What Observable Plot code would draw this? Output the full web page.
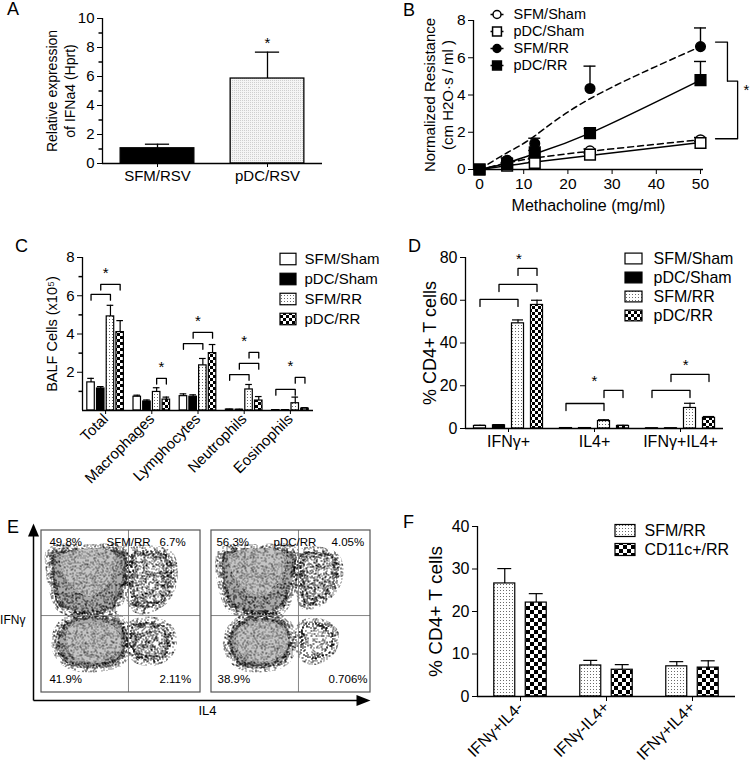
<!DOCTYPE html>
<html>
<head>
<meta charset="utf-8">
<script src="https://cdn.jsdelivr.net/npm/d3@7"></script>
<script src="https://cdn.jsdelivr.net/npm/@observablehq/plot@0.6"></script>
<style>
  html, body { margin: 0; padding: 0; background: #fff; }
  #fig { position: relative; width: 750px; height: 767px; overflow: hidden; background: #fff; }
  #fig > svg { position: absolute; }
</style>
</head>
<body>
<svg width="0" height="0" style="position:absolute;left:0;top:0" aria-hidden="true">
  <defs>
    <pattern id="pDots" patternUnits="userSpaceOnUse" width="3" height="3">
      <rect width="3" height="3" fill="#ffffff"/>
      <rect x="1" y="1" width="1" height="1" fill="#6a6a6a"/>
    </pattern>
    <pattern id="pFine" patternUnits="userSpaceOnUse" width="2" height="2">
      <rect width="2" height="2" fill="#f5f5f5"/>
      <rect width="1" height="1" fill="#cfcfcf"/>
    </pattern>
    <pattern id="pCheck" patternUnits="userSpaceOnUse" width="6" height="6">
      <rect width="6" height="6" fill="#ffffff"/>
      <rect width="3" height="3" fill="#000000"/>
      <rect x="3" y="3" width="3" height="3" fill="#000000"/>
    </pattern>
    <pattern id="pCheck4" patternUnits="userSpaceOnUse" width="8" height="8">
      <rect width="8" height="8" fill="#ffffff"/>
      <rect width="4" height="4" fill="#000000"/>
      <rect x="4" y="4" width="4" height="4" fill="#000000"/>
    </pattern>
    <filter id="fDense" x="0" y="0" width="100%" height="100%" color-interpolation-filters="sRGB">
      <feTurbulence type="fractalNoise" baseFrequency="0.9" numOctaves="2" seed="4"/>
      <feColorMatrix type="matrix" values="0 0 0 0 0  0 0 0 0 0  0 0 0 0 0  -40 0 0 0 20"/>
      <feComponentTransfer><feFuncA type="discrete" tableValues="0 1"/></feComponentTransfer>
    </filter>
    <filter id="fMid" x="0" y="0" width="100%" height="100%" color-interpolation-filters="sRGB">
      <feTurbulence type="fractalNoise" baseFrequency="0.9" numOctaves="2" seed="11"/>
      <feColorMatrix type="matrix" values="0 0 0 0 0  0 0 0 0 0  0 0 0 0 0  -40 0 0 0 18.4"/>
      <feComponentTransfer><feFuncA type="discrete" tableValues="0 1"/></feComponentTransfer>
    </filter>
    <filter id="fSparse" x="0" y="0" width="100%" height="100%" color-interpolation-filters="sRGB">
      <feTurbulence type="fractalNoise" baseFrequency="0.9" numOctaves="2" seed="23"/>
      <feColorMatrix type="matrix" values="0 0 0 0 0  0 0 0 0 0  0 0 0 0 0  -40 0 0 0 16.4"/>
      <feComponentTransfer><feFuncA type="discrete" tableValues="0 1"/></feComponentTransfer>
    </filter>
    <filter id="fLight" x="0" y="0" width="100%" height="100%" color-interpolation-filters="sRGB">
      <feTurbulence type="fractalNoise" baseFrequency="0.9" numOctaves="2" seed="37"/>
      <feColorMatrix type="matrix" values="0 0 0 0 0.3  0 0 0 0 0.3  0 0 0 0 0.3  -40 0 0 0 17"/>
      <feComponentTransfer><feFuncA type="discrete" tableValues="0 1"/></feComponentTransfer>
    </filter>
    <pattern id="sDense" patternUnits="userSpaceOnUse" width="380" height="240">
      <rect width="380" height="240" fill="#000" filter="url(#fDense)"/>
    </pattern>
    <pattern id="sMid" patternUnits="userSpaceOnUse" width="380" height="240">
      <rect width="380" height="240" fill="#000" filter="url(#fMid)"/>
    </pattern>
    <pattern id="sSparse" patternUnits="userSpaceOnUse" width="380" height="240">
      <rect width="380" height="240" fill="#000" filter="url(#fSparse)"/>
    </pattern>
    <pattern id="sBody" patternUnits="userSpaceOnUse" width="380" height="240">
      <rect width="380" height="240" fill="#a9a9a9"/>
      <rect width="380" height="240" fill="#000" filter="url(#fSparse)"/>
    </pattern>
    <pattern id="sCore" patternUnits="userSpaceOnUse" width="380" height="240">
      <rect width="380" height="240" fill="#c4c4c4"/>
      <rect width="380" height="240" fill="#000" filter="url(#fLight)"/>
    </pattern>
  </defs>
</svg>
<div id="fig"></div>
<script>
// ===================== DATA =====================
// Panel A
const aCategories = ["SFM/RSV", "pDC/RSV"];
const aValues = [1.05, 5.86];
const aErrors = [0.28, 1.82];
const aSignificant = [false, true];

// Panel B
const bDoses = [0, 6.25, 12.5, 25, 50];
const bSeries = ["SFM/Sham", "pDC/Sham", "SFM/RR", "pDC/RR"];
const bSFMSham = [0, 0.3, 0.55, 1.0, 1.6];
const bPDCSham = [0, 0.2, 0.35, 0.8, 1.42];
const bSFMRR = [0, 0.5, 1.4, 4.35, 6.6];
const bPDCRR = [0, 0.3, 0.92, 1.95, 4.8];
const bSFMShamErr = [0, 0.04, 0.06, 0.1, 0.12];
const bPDCShamErr = [0, 0.03, 0.05, 0.08, 0.1];
const bSFMRRErr = [0, 0.12, 0.28, 1.2, 1.0];
const bPDCRRErr = [0, 0.08, 0.1, 0.25, 1.0];
// fitted curves at the same doses
const bSFMShamFit = [0, 0.35, 0.62, 0.98, 1.6];
const bPDCShamFit = [0, 0.2, 0.4, 0.75, 1.45];
const bSFMRRFit = [0, 0.9, 1.8, 3.8, 6.6];
const bPDCRRFit = [0, 0.35, 0.85, 1.95, 4.8];

// Panel C
const cCategories = ["Total", "Macrophages", "Lymphocytes", "Neutrophils", "Eosinophils"];
const cSeries = ["SFM/Sham", "pDC/Sham", "SFM/RR", "pDC/RR"];
const cSFMSham = [1.47, 0.72, 0.75, 0.05, 0.02];
const cPDCSham = [1.15, 0.47, 0.72, 0.04, 0.02];
const cSFMRR = [4.92, 0.97, 2.36, 1.1, 0.38];
const cPDCRR = [4.1, 0.57, 3.0, 0.52, 0.1];
const cSFMShamErr = [0.21, 0.08, 0.12, 0.02, 0.01];
const cPDCShamErr = [0.1, 0.08, 0.1, 0.02, 0.01];
const cSFMRRErr = [0.58, 0.22, 0.36, 0.26, 0.32];
const cPDCRRErr = [0.6, 0.13, 0.45, 0.21, 0.05];
// [category, from series, to series, level]
const cBrackets = [[0,0,2,6.07],[0,1,3,6.6],[1,2,3,1.68],[2,0,2,3.5],[2,1,3,4.08],[3,0,2,1.88],[3,1,3,2.46],[3,2,3,3.04],[4,0,2,1.1],[4,2,3,1.73]];

// Panel D
const dCategories = ["IFNγ+", "IL4+", "IFNγ+IL4+"];
const dSeries = ["SFM/Sham", "pDC/Sham", "SFM/RR", "pDC/RR"];
const dSFMSham = [1.2, 0.2, 0.1];
const dPDCSham = [1.5, 0.2, 0.1];
const dSFMRR = [49.2, 3.5, 9.6];
const dPDCRR = [57.8, 1.2, 5.0];
const dSFMShamErr = [0.3, 0.05, 0.05];
const dPDCShamErr = [0.3, 0.05, 0.05];
const dSFMRRErr = [1.6, 0.6, 2.2];
const dPDCRRErr = [2.2, 0.3, 0.6];
const dBrackets = [[0,0,2,60.4],[0,1,3,67.4],[0,2,3,74.9],[1,2,3,17.8],[1,0,2,11.7],[2,0,2,17.8],[2,1,3,25.3]];

// Panel E (flow cytometry quadrants)
const eSamples = ["SFM/RR", "pDC/RR"];
const ePercentSFM = ["49.8%", "6.7%", "41.9%", "2.11%"]; // UL, UR, LL, LR
const ePercentPDC = ["56.3%", "4.05%", "38.9%", "0.706%"];
const eGate = [54.7, 47.5]; // quadrant gate (% of IL4, % of IFNγ axis)
// population outlines in % of axis range
const eSfmUL = [[7,86],[29.6,87.5],[52,86.5],[53.5,76],[50,62],[44,52],[27.7,49.4],[13.2,53.1],[8.5,65],[6.5,78]];
const eSfmUR = [[57,86],[68.6,87.5],[80,84],[82,70],[76,57],[62.3,51.5],[57,57]];
const eSfmLL = [[11.5,37.5],[19,44.5],[34.0,46.5],[49,43.5],[53,32],[49,20.5],[34.0,16.5],[18,18.5],[11,26]];
const eSfmLR = [[57,40.5],[68.6,43.5],[80,38.5],[81,27.5],[73.5,20.5],[60,21.5],[57,29]];
const eSfmCoreU = [[15,83],[44,84],[40,69],[29.6,62],[18,71]];
const eSfmCoreL = [[19,38],[43,39.5],[47.5,29],[37.1,22],[21,24.5]];
const ePdcUL = [[8,86],[29.6,87.5],[50.5,86.5],[52,76],[48.5,62],[43,52],[27.7,49.4],[13.2,53.1],[8.5,65],[6.5,78]];
const ePdcUR = [[57,85],[68.6,86.5],[78,82],[79,70],[70,58],[59.1,54.5],[57,60]];
const ePdcLL = [[12.5,36.5],[20,44],[32.1,46],[45.5,43],[49.5,32],[45.5,20.5],[32.1,16.5],[18,18.5],[12,26]];
const ePdcLR = [[57,40.5],[67.3,42.5],[76,37.5],[75,26.5],[65.4,20.5],[58,23]];
const ePdcCoreU = [[14,83],[44,84],[40,69],[29.6,62],[18,71]];
const ePdcCoreL = [[19,38],[42,39.5],[45.5,29],[35.8,22],[21,24.5]];

// Panel F
const fCategories = ["IFNγ+IL4-", "IFNγ-IL4+", "IFNγ+IL4+"];
const fSeries = ["SFM/RR", "CD11c+/RR"];
const fSFMRR = [26.6, 7.3, 7.1];
const fCD11cRR = [22.1, 6.3, 6.8];
const fSFMRRErr = [3.5, 1.2, 1.1];
const fCD11cRRErr = [2.1, 1.2, 1.6];

// ===================== HELPERS =====================
const FONT = '"Liberation Sans", Arial, Helvetica, sans-serif';
const fig = document.getElementById("fig");
function put(node, left, top) {
  node.style.position = "absolute";
  node.style.left = left + "px";
  node.style.top = top + "px";
  fig.appendChild(node);
}
function baseStyle(fs) {
  return {fontFamily: FONT, fontSize: fs + "px", color: "black", background: "transparent", overflow: "visible"};
}
function yTitle(text, dx, fontSize) {
  return Plot.text([text], {text: d => d, frameAnchor: "left", rotate: -90, dx, fontSize,
    textAnchor: "middle", lineAnchor: "middle"});
}
const tickSym = {draw(ctx) { ctx.moveTo(-4, 0); ctx.lineTo(0, 0); }};
const seriesFills4 = ["#ffffff", "#000000", "url(#pDots)", "url(#pCheck)"];

function barPanel(cfg) {
  const {categories, series, values, errors, fills, brackets = [], starShift = {}, pitch, barW, cap, leg,
    yDomain, yTicks, yMinor = [], fontSize, tickRotate, yLabel, yLabelSize, yLabelDx, starDy, starSize,
    W, H, mL, mR, mT, mB, xTickSize = 4, xTickPadding = 3} = cfg;
  const n = series.length;
  const center = (g, s) => g + (s - (n - 1) / 2) * pitch;
  const rows = [];
  series.forEach((name, s) => categories.forEach((c, g) =>
    rows.push({s, g, xc: center(g, s), v: values[s][g], e: errors[s][g]})));
  const bracketLines = brackets.map(([g, a, b, lvl]) => [
    {x: center(g, a), y: lvl - leg}, {x: center(g, a), y: lvl},
    {x: center(g, b), y: lvl}, {x: center(g, b), y: lvl - leg}]);
  const starRows = categories.map((c, g) => {
    const bs = brackets.filter(b => b[0] === g);
    if (!bs.length) return null;
    const xs = bs.flatMap(b => [center(g, b[1]), center(g, b[2])]);
    return {x: (d3.min(xs) + d3.max(xs)) / 2 + (starShift[g] || 0), y: d3.max(bs, b => b[3])};
  }).filter(Boolean);
  const x0 = -0.5, x1 = categories.length - 0.5;
  const errRows = rows.filter(r => r.e > 0);
  return Plot.plot({
    width: W, height: H, marginLeft: mL, marginRight: mR, marginTop: mT, marginBottom: mB,
    style: baseStyle(fontSize),
    x: {domain: [x0, x1], ticks: d3.range(categories.length), tickFormat: i => categories[i],
        tickSize: xTickSize, tickPadding: xTickPadding, tickRotate, label: null},
    y: {domain: yDomain, ticks: yTicks, tickSize: 5, tickPadding: 3, label: null},
    marks: [
      ...series.map((name, s) => Plot.rect(rows.filter(r => r.s === s), {
        x1: r => r.xc - barW / 2, x2: r => r.xc + barW / 2, y1: 0, y2: "v",
        fill: fills[s], stroke: "black", strokeWidth: 1.2})),
      Plot.ruleX(errRows, {x: "xc", y1: "v", y2: r => r.v + r.e, strokeWidth: 1.2}),
      Plot.ruleY(errRows, {y: r => r.v + r.e, x1: r => r.xc - cap, x2: r => r.xc + cap, strokeWidth: 1.2}),
      ...bracketLines.map(p => Plot.line(p, {x: "x", y: "y", strokeWidth: 1.3})),
      Plot.text(starRows, {x: "x", y: "y", text: () => "*", dy: starDy, fontSize: starSize}),
      Plot.dot(yMinor, {x: () => x0, y: d => d, symbol: tickSym, stroke: "black", fill: "none"}),
      Plot.ruleY([yDomain[0]], {strokeWidth: 1.3}),
      Plot.ruleX([x0], {strokeWidth: 1.3}),
      yTitle(yLabel, yLabelDx, yLabelSize)
    ]
  });
}

function barLegend({series, fills, swW, swH, rowH, gap, fontSize, width}) {
  return Plot.plot({
    width, height: rowH * series.length, marginLeft: 0, marginRight: 0, marginTop: 0, marginBottom: 0,
    style: baseStyle(fontSize),
    x: {type: "band", domain: ["sw"], range: [0, swW], padding: 0, axis: null},
    y: {type: "band", domain: series, range: [0, rowH * series.length], padding: 0, axis: null},
    marks: [
      ...series.map((s, i) => Plot.cell([s], {x: () => "sw", y: d => d, fill: fills[i], stroke: "black",
        strokeWidth: 1.2, insetTop: (rowH - swH) / 2, insetBottom: (rowH - swH) / 2})),
      Plot.text(series, {x: () => "sw", y: d => d, text: d => d, dx: swW / 2 + gap, textAnchor: "start"})
    ]
  });
}

// ===================== PANEL A =====================
const aRows = aCategories.map((c, i) => ({i, v: aValues[i], e: aErrors[i], sig: aSignificant[i]}));
const aFills = ["#000000", "url(#pFine)"];
const A = Plot.plot({
  width: 340, height: 185, marginLeft: 102, marginRight: 18, marginTop: 18, marginBottom: 22,
  style: baseStyle(15),
  x: {domain: [-0.5, 1.5], ticks: [0, 1], tickFormat: i => aCategories[i], tickSize: 4, tickPadding: 3, label: null},
  y: {domain: [0, 10], ticks: [0, 2, 4, 6, 8, 10], tickSize: 5, tickPadding: 3, label: null},
  marks: [
    ...aRows.map(r => Plot.rect([r], {x1: d => d.i - 0.335, x2: d => d.i + 0.335, y1: 0, y2: "v",
      fill: aFills[r.i], stroke: "black", strokeWidth: 1.3})),
    Plot.ruleX(aRows, {x: "i", y1: "v", y2: d => d.v + d.e, strokeWidth: 1.3}),
    Plot.ruleY(aRows, {y: d => d.v + d.e, x1: d => d.i - 0.11, x2: d => d.i + 0.11, strokeWidth: 1.3}),
    Plot.text(aRows.filter(d => d.sig), {x: "i", y: d => d.v + d.e, text: () => "*", dy: -9, fontSize: 15}),
    Plot.dot([1, 3, 5, 7, 9], {x: () => -0.5, y: d => d, symbol: tickSym, stroke: "black", fill: "none"}),
    Plot.ruleY([0], {strokeWidth: 1.3}),
    Plot.ruleX([-0.5], {strokeWidth: 1.3}),
    yTitle("Relative expression", -50, 14),
    yTitle("of IFNa4 (Hprt)", -32, 14)
  ]
});
put(A, 0, 0);

// ===================== PANEL B =====================
const bVals = [bSFMSham, bPDCSham, bSFMRR, bPDCRR];
const bErrs = [bSFMShamErr, bPDCShamErr, bSFMRRErr, bPDCRRErr];
const bFits = [bSFMShamFit, bPDCShamFit, bSFMRRFit, bPDCRRFit];
const bSymbols = ["circle", "square", "circle", "square"];
const bRadius = [4.8, 6, 4.8, 6];
const bFillsStyle = ["#ffffff", "#ffffff", "#000000", "#000000"];
const bDash = ["6,4", undefined, "6,4", undefined];
const bXMin = -1.36;
const bMarks = [];
bSeries.forEach((s, i) => {
  bMarks.push(Plot.line(bDoses.map((x, k) => ({x, y: bFits[i][k]})), {x: "x", y: "y", curve: "natural",
    stroke: "black", strokeWidth: 1.5, strokeDasharray: bDash[i]}));
});
bSeries.forEach((s, i) => {
  const rows = bDoses.map((x, k) => ({x, v: bVals[i][k], e: bErrs[i][k]})).filter(r => r.e > 0);
  bMarks.push(Plot.ruleX(rows, {x: "x", y1: "v", y2: r => r.v + r.e, strokeWidth: 1.4}));
  bMarks.push(Plot.ruleY(rows, {y: r => r.v + r.e, x1: r => r.x - 1.36, x2: r => r.x + 1.36, strokeWidth: 1.4}));
});
bSeries.forEach((s, i) => {
  bMarks.push(Plot.dot(bDoses.map((x, k) => ({x, v: bVals[i][k]})), {x: "x", y: "v", symbol: bSymbols[i],
    r: bRadius[i], fill: bFillsStyle[i], stroke: "black", strokeWidth: 1.5}));
});
const B = Plot.plot({
  width: 390, height: 215, marginLeft: 113, marginRight: 47, marginTop: 20, marginBottom: 46,
  style: baseStyle(15.5),
  x: {domain: [bXMin, 50.68], ticks: [0, 10, 20, 30, 40, 50], tickSize: 5, tickPadding: 3, label: null},
  y: {domain: [0, 8], ticks: [0, 2, 4, 6, 8], tickSize: 5, tickPadding: 3, label: null},
  marks: [
    ...bMarks,
    // significance brackets (right side)
    Plot.line([{x: 53.4, y: 6.84}, {x: 56.1, y: 6.84}, {x: 56.1, y: 4.75}], {x: "x", y: "y", strokeWidth: 1.3}),
    Plot.line([{x: 56.1, y: 4.75}, {x: 58.4, y: 4.75}, {x: 58.4, y: 1.65}, {x: 53.4, y: 1.65}], {x: "x", y: "y", strokeWidth: 1.3}),
    Plot.text([{x: 60.4, y: 4.5}], {x: "x", y: "y", text: () => "*", dy: 4, fontSize: 15}),
    Plot.ruleY([0], {strokeWidth: 1.3}),
    Plot.ruleX([bXMin], {strokeWidth: 1.3}),
    Plot.text(["Methacholine (mg/ml)"], {text: d => d, frameAnchor: "bottom", lineAnchor: "middle", dy: 36, fontSize: 16}),
    yTitle("Normalized Resistance", -43, 15),
    yTitle("(cm H2O·s / ml )", -25, 15)
  ]
});
put(B, 360, 0);

const BL = Plot.plot({
  width: 120, height: 80, marginLeft: 0, marginRight: 0, marginTop: 0, marginBottom: 0,
  style: baseStyle(14.5),
  x: {domain: [0, 1], range: [0, 13], axis: null},
  y: {type: "point", domain: bSeries, range: [13, 65.5], padding: 0, axis: null},
  marks: [
    ...bSeries.map((s, i) => Plot.link([s], {x1: 0, x2: 1, y1: d => d, y2: d => d, stroke: "black",
      strokeWidth: 1.5, strokeDasharray: i % 2 === 0 ? "3,2" : undefined})),
    ...bSeries.map((s, i) => Plot.dot([s], {x: 0.5, y: d => d, symbol: bSymbols[i], r: i % 2 ? 5 : 4,
      fill: bFillsStyle[i], stroke: "black", strokeWidth: 1.5})),
    Plot.text(bSeries, {x: 1, y: d => d, text: d => d, dx: 10, textAnchor: "start"})
  ]
});
put(BL, 490, 0);

// ===================== PANEL C =====================
const C = barPanel({
  categories: cCategories, series: cSeries,
  values: [cSFMSham, cPDCSham, cSFMRR, cPDCRR], errors: [cSFMShamErr, cPDCShamErr, cSFMRRErr, cPDCRRErr],
  fills: seriesFills4, brackets: cBrackets, pitch: 0.21, barW: 0.162, cap: 0.072, leg: 0.3,
  yDomain: [0, 8], yTicks: [2, 4, 6, 8], yMinor: [1, 3, 5, 7], fontSize: 15, tickRotate: -45,
  yLabel: "BALF Cells (x10⁵)", yLabelSize: 14.5, yLabelDx: -30, starDy: -11, starSize: 15,
  W: 370, H: 255, mL: 82, mR: 57, mT: 17, mB: 85, xTickSize: 4, xTickPadding: 2
});
put(C, 0, 240);
put(barLegend({series: cSeries, fills: seriesFills4, swW: 16, swH: 11.5, rowH: 20, gap: 8, fontSize: 15, width: 90}), 280, 249);

// ===================== PANEL D =====================
const D = barPanel({
  categories: dCategories, series: dSeries,
  values: [dSFMSham, dPDCSham, dSFMRR, dPDCRR], errors: [dSFMShamErr, dPDCShamErr, dSFMRRErr, dPDCRRErr],
  fills: seriesFills4, brackets: dBrackets, starShift: {0: 0.12, 2: 0.06}, pitch: 0.221, barW: 0.14, cap: 0.064, leg: 3.3,
  yDomain: [0, 80], yTicks: [0, 20, 40, 60, 80], fontSize: 16,
  yLabel: "% CD4+ T cells", yLabelSize: 18, yLabelDx: -35, starDy: -9, starSize: 15,
  W: 380, H: 215, mL: 95, mR: 27, mT: 17, mB: 27, xTickSize: 4, xTickPadding: 3
});
put(D, 370, 240);
put(barLegend({series: dSeries, fills: seriesFills4, swW: 17, swH: 11.5, rowH: 19.7, gap: 11, fontSize: 16, width: 125}), 625, 248);

// ===================== PANEL E =====================
const eOffsets = [0, 106.9];
const eUp = {draw(ctx) { ctx.moveTo(0, 0); ctx.lineTo(5.5, 13); ctx.lineTo(-5.5, 13); ctx.closePath(); }};
const eRight = {draw(ctx) { ctx.moveTo(0, 0); ctx.lineTo(-14, -5.5); ctx.lineTo(-14, 5.5); ctx.closePath(); }};
function cloudLayer(points, off, fill, stroke, strokeWidth) {
  return Plot.line(points, {x: d => d[0] + off, y: d => d[1], curve: "catmull-rom-closed",
    fill, stroke, strokeWidth, strokeLinejoin: "round"});
}
function mainPopulation(points, off) {
  return [
    cloudLayer(points, off, "none", "url(#sSparse)", 13),
    cloudLayer(points, off, "url(#sBody)", "url(#sMid)", 5)
  ];
}
function sidePopulation(points, off, fill) {
  return [
    cloudLayer(points, off, "none", "url(#sSparse)", 11),
    cloudLayer(points, off, fill, "url(#sSparse)", 3)
  ];
}
const eMarks = [
  ...sidePopulation(eSfmUR, 0, "url(#sMid)"),
  ...sidePopulation(eSfmLR, 0, "url(#sMid)"),
  ...mainPopulation(eSfmUL, 0),
  ...mainPopulation(eSfmLL, 0),
  cloudLayer(eSfmCoreU, 0, "url(#sCore)", "url(#sCore)", 8),
  cloudLayer(eSfmCoreL, 0, "url(#sCore)", "url(#sCore)", 8),
  ...sidePopulation(ePdcUR, eOffsets[1], "url(#sMid)"),
  ...sidePopulation(ePdcLR, eOffsets[1], "url(#sSparse)"),
  ...mainPopulation(ePdcUL, eOffsets[1]),
  ...mainPopulation(ePdcLL, eOffsets[1]),
  cloudLayer(ePdcCoreU, eOffsets[1], "url(#sCore)", "url(#sCore)", 8),
  cloudLayer(ePdcCoreL, eOffsets[1], "url(#sCore)", "url(#sCore)", 8)
];
const eBoxes = eSamples.map((s, i) => ({s, off: eOffsets[i], pct: i === 0 ? ePercentSFM : ePercentPDC}));
const E = Plot.plot({
  width: 372, height: 230, marginLeft: 41, marginRight: 2, marginTop: 30, marginBottom: 38,
  style: baseStyle(11.5),
  x: {domain: [0, 206.9], axis: null},
  y: {domain: [0, 100], axis: null},
  marks: [
    ...eMarks,
    Plot.ruleX(eBoxes, {x: d => d.off + eGate[0], y1: 0, y2: 100, stroke: "#777", strokeWidth: 0.9}),
    Plot.ruleY(eBoxes, {y: eGate[1], x1: d => d.off, x2: d => d.off + 100, stroke: "#777", strokeWidth: 0.9}),
    Plot.rect(eBoxes, {x1: d => d.off, x2: d => d.off + 100, y1: 0, y2: 100, fill: "none", stroke: "#555", strokeWidth: 1.2}),
    Plot.text(eBoxes, {x: d => d.off + (d.off ? 3.1 : 5.0), y: 92.6, text: d => d.pct[0], textAnchor: "start"}),
    Plot.text(eBoxes, {x: d => d.off + (d.off ? 75.5 : 74.2), y: 92.6, text: d => d.pct[1], textAnchor: "start"}),
    Plot.text(eBoxes, {x: d => d.off + (d.off ? 3.8 : 5.0), y: 8.0, text: d => d.pct[2], textAnchor: "start"}),
    Plot.text(eBoxes, {x: d => d.off + (d.off ? 73.6 : 74.2), y: 8.0, text: d => d.pct[3], textAnchor: "start"}),
    Plot.text(eBoxes, {x: d => d.off + (d.off ? 39.0 : 40.9), y: 92.6, text: d => d.s, textAnchor: "start"}),
    Plot.link([0], {x1: -5.03, y1: -4.94, x2: -5.03, y2: 100, stroke: "black", strokeWidth: 1.5}),
    Plot.link([0], {x1: -5.03, y1: -4.94, x2: 199, y2: -4.94, stroke: "black", strokeWidth: 1.5}),
    Plot.dot([0], {x: -5.03, y: 104.3, symbol: eUp, fill: "black", stroke: "none"}),
    Plot.dot([0], {x: 206.9, y: -4.94, symbol: eRight, fill: "black", stroke: "none"}),
    Plot.text(["IFNγ"], {text: d => d, x: -10.1, y: 44.4, textAnchor: "end", fontSize: 12}),
    Plot.text(["IL4"], {text: d => d, x: 104.4, y: -11.1, fontSize: 13})
  ]
});
put(E, 0, 500);

// ===================== PANEL F =====================
const fFills = ["url(#pDots)", "url(#pCheck4)"];
const F = barPanel({
  categories: fCategories, series: fSeries,
  values: [fSFMRR, fCD11cRR], errors: [fSFMRRErr, fCD11cRRErr],
  fills: fFills, brackets: [], pitch: 0.366, barW: 0.244, cap: 0.081, leg: 0,
  yDomain: [0, 40], yTicks: [0, 10, 20, 30, 40], fontSize: 16, tickRotate: -45,
  yLabel: "% CD4+ T cells", yLabelSize: 19, yLabelDx: -42, starDy: 0, starSize: 15,
  W: 380, H: 277, mL: 107, mR: 15, mT: 36, mB: 71, xTickSize: 5, xTickPadding: 3
});
put(F, 370, 490);
put(barLegend({series: fSeries, fills: fFills, swW: 20, swH: 12, rowH: 19, gap: 9, fontSize: 16, width: 120}), 615, 520.5);

// ===================== PANEL LETTERS =====================
const letters = d3.create("svg").attr("width", 750).attr("height", 767)
  .style("pointer-events", "none").style("overflow", "visible");
[["A", 7, 15], ["B", 403, 16], ["C", 15, 252], ["D", 408, 252], ["E", 7, 533], ["F", 403, 528]].forEach(([t, x, y]) =>
  letters.append("text").attr("x", x).attr("y", y).attr("font-family", FONT).attr("font-size", 18).text(t));
put(letters.node(), 0, 0);
</script>
</body>
</html>
